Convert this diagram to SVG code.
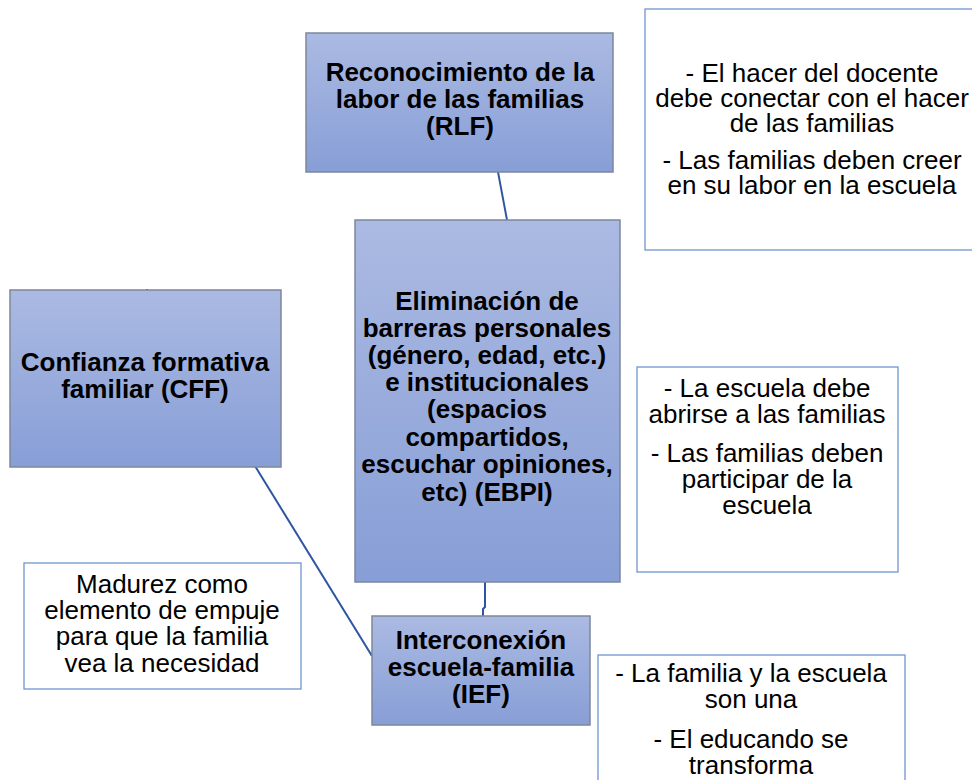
<svg xmlns="http://www.w3.org/2000/svg" width="972" height="780" viewBox="0 0 972 780">
<defs>
<linearGradient id="g" x1="0" y1="0" x2="0" y2="1">
<stop offset="0" stop-color="#abbae2"/>
<stop offset="1" stop-color="#879ed6"/>
</linearGradient>
<style>
.node{fill:url(#g);stroke:#7d879c;stroke-width:1.5}
.note{fill:#fff;stroke:#7195d3;stroke-width:1.3}
.b{font-family:"Liberation Sans",Arial,sans-serif;font-weight:bold;font-size:26px;fill:#000;text-anchor:middle}
.r{font-family:"Liberation Sans",Arial,sans-serif;font-size:26px;fill:#000;text-anchor:middle}
.c{fill:none;stroke:#2f55a0;stroke-width:2}
</style>
</defs>
<rect width="972" height="780" fill="#fff"/>
<g id="connectors">
<line class="c" x1="498" y1="172" x2="507" y2="220"/>
<path class="c" d="M485,582 V607 L483,609 V616"/>
<line class="c" x1="255" y1="466" x2="372" y2="656"/>
<line class="c" x1="147" y1="289" x2="147" y2="291"/>
</g>
<g id="RLF">
<rect class="node" x="306" y="33" width="307" height="139"/>
<text class="b" x="460" y="81">Reconocimiento de la</text>
<text class="b" x="460" y="108">labor de las familias</text>
<text class="b" x="460" y="135">(RLF)</text>
</g>
<g id="note-RLF">
<rect class="note" x="645" y="9" width="340" height="241"/>
<text class="r" x="812" y="82">- El hacer del docente</text>
<text class="r" x="812" y="107">debe conectar con el hacer</text>
<text class="r" x="812" y="132">de las familias</text>
<text class="r" x="812" y="169">- Las familias deben creer</text>
<text class="r" x="812" y="194">en su labor en la escuela</text>
</g>
<g id="EBPI">
<rect class="node" x="355" y="220" width="265" height="362"/>
<text class="b" x="487" y="310">Eliminación de</text>
<text class="b" x="487" y="337">barreras personales</text>
<text class="b" x="487" y="364">(género, edad, etc.)</text>
<text class="b" x="487" y="391">e institucionales</text>
<text class="b" x="487" y="418">(espacios</text>
<text class="b" x="487" y="446">compartidos,</text>
<text class="b" x="487" y="473">escuchar opiniones,</text>
<text class="b" x="487" y="501">etc) (EBPI)</text>
</g>
<g id="note-EBPI">
<rect class="note" x="637" y="367" width="261" height="205"/>
<text class="r" x="767" y="397">- La escuela debe</text>
<text class="r" x="767" y="423">abrirse a las familias</text>
<text class="r" x="767" y="462">- Las familias deben</text>
<text class="r" x="767" y="488">participar de la</text>
<text class="r" x="767" y="514">escuela</text>
</g>
<g id="CFF">
<rect class="node" x="10" y="290" width="271" height="177"/>
<text class="b" x="145" y="371">Confianza formativa</text>
<text class="b" x="145" y="398">familiar (CFF)</text>
</g>
<g id="note-CFF">
<rect class="note" x="24" y="563" width="277" height="126"/>
<text class="r" x="162" y="593">Madurez como</text>
<text class="r" x="162" y="619">elemento de empuje</text>
<text class="r" x="162" y="645">para que la familia</text>
<text class="r" x="162" y="672">vea la necesidad</text>
</g>
<g id="IEF">
<rect class="node" x="372" y="616" width="218" height="109"/>
<text class="b" x="481" y="649">Interconexión</text>
<text class="b" x="481" y="676">escuela-familia</text>
<text class="b" x="481" y="703">(IEF)</text>
</g>
<g id="note-IEF">
<rect class="note" x="598" y="655" width="307" height="140"/>
<text class="r" x="751" y="682">- La familia y la escuela</text>
<text class="r" x="751" y="708">son una</text>
<text class="r" x="751" y="748">- El educando se</text>
<text class="r" x="751" y="774">transforma</text>
</g>
</svg>
